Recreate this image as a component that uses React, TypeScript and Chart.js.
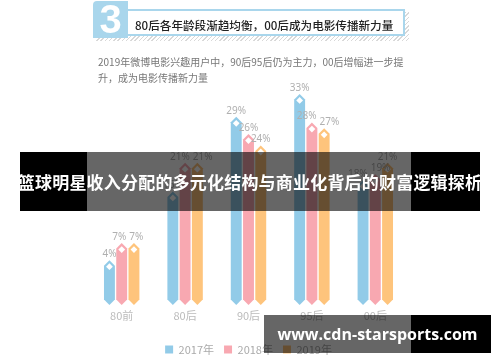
import React, { useEffect, useRef } from "react";
import { Chart, registerables } from "chart.js";

Chart.register(...registerables);

const categories = ["80前", "80后", "90后", "95后", "00后"];
const seriesNames = ["2017年", "2018年", "2019年"];
const values2017 = [4, 16, 29, 33, 18];
const values2018 = [7, 21, 26, 28, 19];
const values2019 = [7, 21, 24, 27, 21];
const seriesColors = ["#92cbe8", "#f8a8b1", "#fec47c"];

const titleText = "80后各年龄段渐趋均衡，00后成为电影传播新力量";
const subtitleLine1 = "2019年微博电影兴趣用户中，90后95后仍为主力，00后增幅进一步提";
const subtitleLine2 = "升，成为电影传播新力量";
const bannerText = "篮球明星收入分配的多元化结构与商业化背后的财富逻辑探析";
const watermarkText = "www.cdn-starsports.com";

const CJK = '"Noto Sans CJK SC", "Noto Sans", sans-serif';
const Y_MIN = -3.8;
const Y_MAX = 36.3;

const arrowBars = {
  id: "arrowBars",
  beforeDatasetDraw() {
    return false;
  },
  afterDatasetsDraw(chart: any) {
    const ctx = chart.ctx;
    const labelFont = '10px "Noto Sans", sans-serif';
    const perCat: any[][] = [];
    chart.data.datasets.forEach((ds: any, di: number) => {
      const meta = chart.getDatasetMeta(di);
      if (meta.hidden) return;
      meta.data.forEach((el: any, i: number) => {
        const p = el.getProps(["x", "y", "base", "width"], true);
        const x = p.x, y = p.y, base = p.base, w = p.width;
        const hw = w / 2;
        ctx.save();
        ctx.fillStyle = ds.backgroundColor;
        ctx.beginPath();
        ctx.moveTo(x, y);
        ctx.lineTo(x + hw, y + hw);
        ctx.lineTo(x + hw, base - hw);
        ctx.lineTo(x, base);
        ctx.lineTo(x - hw, base - hw);
        ctx.lineTo(x - hw, y + hw);
        ctx.closePath();
        ctx.fill();
        const cy = y + hw + 1;
        const d = hw * 0.62;
        ctx.fillStyle = "#ffffff";
        ctx.beginPath();
        ctx.moveTo(x, cy - d);
        ctx.lineTo(x + d, cy);
        ctx.lineTo(x, cy + d);
        ctx.lineTo(x - d, cy);
        ctx.closePath();
        ctx.fill();
        ctx.restore();
        ctx.save();
        ctx.font = labelFont;
        const text = ds.data[i] + "%";
        const tw = ctx.measureText(text).width;
        ctx.restore();
        if (!perCat[i]) perCat[i] = [];
        perCat[i].push({ text, x, y: y - 1, w: tw });
      });
    });
    perCat.forEach((labels) => {
      if (!labels) return;
      for (let k = 0; k < labels.length - 1; k++) {
        const a = labels[k], b = labels[k + 1];
        if (Math.abs(a.y - b.y) < 11) {
          const need = (a.w + b.w) / 2 + 3;
          const gap = b.x - a.x;
          if (gap < need) {
            const s = (need - gap) / 2;
            a.x -= s;
            b.x += s;
          }
        }
      }
    });
    ctx.save();
    ctx.fillStyle = "#b0b0b0";
    ctx.font = labelFont;
    ctx.textAlign = "center";
    ctx.textBaseline = "bottom";
    perCat.forEach((labels) => {
      if (!labels) return;
      labels.forEach((l: any) => ctx.fillText(l.text, l.x, l.y));
    });
    ctx.restore();
  },
};

function BarChart() {
  const ref = useRef<HTMLCanvasElement | null>(null);
  useEffect(() => {
    if (!ref.current) return;
    const series = [values2017, values2018, values2019];
    const chart = new Chart(ref.current, {
      type: "bar",
      data: {
        labels: categories,
        datasets: series.map((vals, k) => ({
          label: seriesNames[k],
          data: vals,
          backgroundColor: seriesColors[k],
          borderWidth: 0,
          base: Y_MIN,
          categoryPercentage: 0.58,
          barPercentage: 0.89,
        })),
      },
      options: {
        animation: false,
        responsive: false,
        maintainAspectRatio: false,
        layout: { padding: { left: 90, right: 93, top: 75, bottom: 0 } },
        scales: {
          x: {
            grid: { display: false, drawTicks: false },
            border: { display: false },
            ticks: {
              color: "#bbbbbb",
              font: { size: 11, family: CJK },
              padding: 4,
            },
            afterFit: (scale: any) => {
              scale.height = 29;
            },
          },
          y: {
            display: false,
            min: Y_MIN,
            max: Y_MAX,
          },
        },
        plugins: {
          legend: {
            position: "bottom",
            labels: {
              boxWidth: 8,
              boxHeight: 8,
              padding: 10,
              color: "#aaaaaa",
              font: { size: 11, family: CJK },
            },
          },
          tooltip: { enabled: false },
        },
      },
      plugins: [arrowBars],
    } as any);
    return () => chart.destroy();
  }, []);
  return (
    <canvas
      ref={ref}
      width={500}
      height={365}
      style={{ position: "absolute", left: 0, top: 0, width: 500, height: 365 }}
    />
  );
}

export default function App() {
  return (
    <div
      style={{
        position: "fixed",
        left: 0,
        top: 0,
        width: 500,
        height: 362,
        overflow: "hidden",
        background: "#ffffff",
        fontFamily: CJK,
      }}
    >
      <BarChart />
      <div
        style={{
          position: "absolute",
          left: 95,
          top: 12,
          width: 314,
          height: 29,
          background:
            "repeating-linear-gradient(135deg, #d8d8d8 0px, #d8d8d8 1px, #ffffff 1px, #ffffff 3px)",
        }}
      />
      <div
        style={{
          position: "absolute",
          left: 125,
          top: 9,
          width: 276,
          height: 23,
          border: "2px solid #a9d6ec",
          background: "#ffffff",
        }}
      />
      <div
        style={{
          position: "absolute",
          left: 93,
          top: 1,
          width: 35,
          height: 37,
          background: "#a9d6ec",
          borderTopLeftRadius: 4,
          color: "#ffffff",
          fontFamily: '"Liberation Sans", "DejaVu Sans", sans-serif',
          fontWeight: 700,
          fontSize: 40,
          lineHeight: "37px",
          textAlign: "center",
        }}
      >
        3
      </div>
      <div
        style={{
          position: "absolute",
          left: 135,
          top: 16,
          fontSize: 11.6,
          lineHeight: "18px",
          color: "#222222",
          whiteSpace: "nowrap",
          fontWeight: 500,
        }}
      >
        {titleText}
      </div>
      <div
        style={{
          position: "absolute",
          left: 98,
          top: 54,
          fontSize: 10,
          lineHeight: "16px",
          color: "#777777",
          whiteSpace: "nowrap",
        }}
      >
        <div>{subtitleLine1}</div>
        <div>{subtitleLine2}</div>
      </div>
      <div style={{ position: "absolute", left: 20, top: 152, width: 67, height: 59, background: "#000000" }} />
      <div style={{ position: "absolute", left: 87, top: 152, width: 324, height: 59, background: "rgba(0,0,0,0.6)" }} />
      <div style={{ position: "absolute", left: 411, top: 152, width: 69, height: 59, background: "#000000" }} />
      <div
        style={{
          position: "absolute",
          left: 0,
          top: 152,
          width: 500,
          height: 59,
          lineHeight: "59px",
          textAlign: "center",
          color: "#ffffff",
          fontWeight: 700,
          fontSize: 17,
          letterSpacing: 0.2,
          whiteSpace: "nowrap",
        }}
      >
        {bannerText}
      </div>
      <div style={{ position: "absolute", left: 264, top: 315, width: 147, height: 38, background: "rgba(0,0,0,0.6)" }} />
      <div style={{ position: "absolute", left: 411, top: 315, width: 80, height: 38, background: "#000000" }} />
      <div
        style={{
          position: "absolute",
          left: 264,
          top: 315,
          width: 227,
          height: 38,
          lineHeight: "38px",
          textAlign: "center",
          color: "#ffffff",
          fontWeight: 700,
          fontSize: 16,
          fontFamily: '"Open Sans", "DejaVu Sans", sans-serif',
          whiteSpace: "nowrap",
        }}
      >
        {watermarkText}
      </div>
    </div>
  );
}
